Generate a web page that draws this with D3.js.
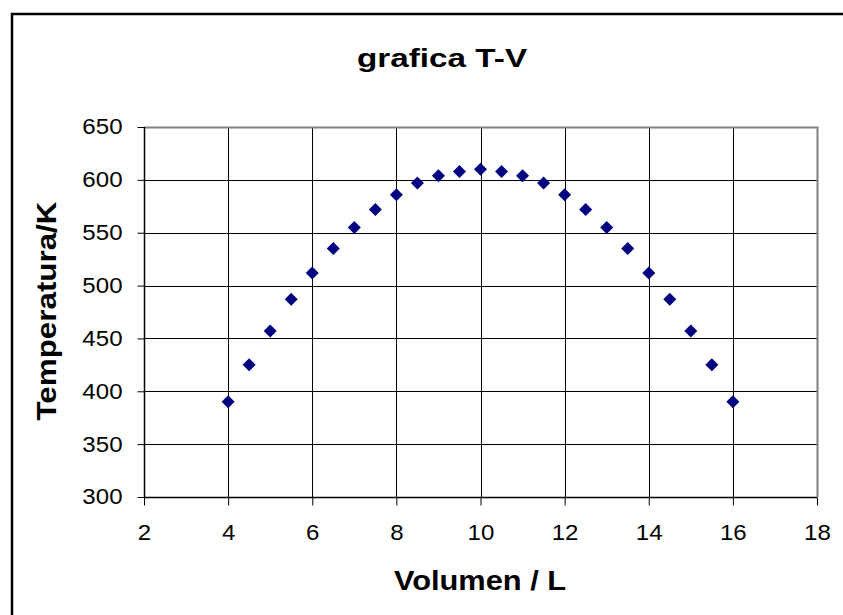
<!DOCTYPE html>
<html>
<head>
<meta charset="utf-8">
<script src="https://cdn.jsdelivr.net/npm/d3@7"></script>
<style>
  html, body { margin: 0; padding: 0; background: #fff; }
  svg { display: block; }
  text { font-family: Arial, "Liberation Sans", sans-serif; fill: #000; }
</style>
</head>
<body>
<svg id="chart" width="843" height="615"></svg>
<script>
// ---- data ----
const volumes = [4, 4.5, 5, 5.5, 6, 6.5, 7, 7.5, 8, 8.5, 9, 9.5, 10, 10.5, 11, 11.5, 12, 12.5, 13, 13.5, 14, 14.5, 15, 15.5, 16];
const temperatures = [390, 425, 457, 487, 512, 535, 555, 572, 586, 597, 604, 608, 610, 608, 604, 597, 586, 572, 555, 535, 512, 487, 457, 425, 390];
const xTicks = [2, 4, 6, 8, 10, 12, 14, 16, 18];
const yTicks = [300, 350, 400, 450, 500, 550, 600, 650];
const titleText = "grafica T-V";
const xTitle = "Volumen / L";
const yTitle = "Temperatura/K";

const svg = d3.select("#chart");
const plot = { left: 144, right: 817, top: 127, bottom: 497 };

const x = d3.scaleLinear().domain([2, 18]).range([plot.left, plot.right]);
const y = d3.scaleLinear().domain([300, 650]).range([plot.bottom, plot.top]);

// outer chart border
svg.append("rect")
  .attr("x", 12).attr("y", 14)
  .attr("width", 860).attr("height", 640)
  .attr("fill", "#fff").attr("stroke", "#000").attr("stroke-width", 2.5);

// gridlines
svg.append("g").selectAll("line").data(yTicks).join("line")
  .attr("x1", plot.left).attr("x2", plot.right)
  .attr("y1", d => Math.round(y(d)) + 0.5).attr("y2", d => Math.round(y(d)) + 0.5)
  .attr("stroke", "#000").attr("stroke-width", 1);
svg.append("g").selectAll("line").data(xTicks).join("line")
  .attr("y1", plot.top).attr("y2", plot.bottom)
  .attr("x1", d => Math.round(x(d)) + 0.5).attr("x2", d => Math.round(x(d)) + 0.5)
  .attr("stroke", "#000").attr("stroke-width", 1);

// plot area border (gray top/right)
svg.append("path")
  .attr("d", `M${plot.left},${plot.top + 0.5} H${plot.right + 0.5} V${plot.bottom}`)
  .attr("fill", "none").attr("stroke", "#808080").attr("stroke-width", 2);

// axes
const xAxis = d3.axisBottom(x).tickValues(xTicks).tickSize(8).tickPadding(19).tickFormat(d3.format("d"));
const yAxis = d3.axisLeft(y).tickValues(yTicks).tickSize(7).tickPadding(15).tickFormat(d3.format("d"));

const gx = svg.append("g").attr("transform", `translate(0,${plot.bottom + 0.5})`).call(xAxis);
const gy = svg.append("g").attr("transform", `translate(${plot.left + 0.5},0)`).call(yAxis);
[gx, gy].forEach(g => {
  g.select(".domain").attr("stroke", "#000").attr("stroke-width", 1.5);
  g.selectAll(".tick line").attr("stroke", "#000");
  g.selectAll(".tick text").attr("font-size", 21.5).attr("font-family", "Arial, 'Liberation Sans', sans-serif").attr("fill", "#000");
});
gx.select(".domain").attr("d", `M${plot.left},0H${plot.right}`);
gy.select(".domain").attr("d", `M0,${plot.top}V${plot.bottom}`);
// slight horizontal stretch of tick labels
gy.selectAll(".tick text").each(function() {
  const t = d3.select(this);
  const tx = +t.attr("x");
  t.attr("transform", `translate(${tx},0) scale(1.12,1) translate(${-tx},0)`);
});
gx.selectAll(".tick text").attr("transform", "scale(1.12,1)");

// markers
svg.append("g").selectAll("path").data(volumes.map((v, i) => [v, temperatures[i]])).join("path")
  .attr("transform", d => `translate(${x(d[0])},${y(d[1])})`)
  .attr("d", "M0,-6.5L6.5,0L0,6.5L-6.5,0Z")
  .attr("fill", "#000080");

// titles
svg.append("text")
  .attr("transform", "translate(442,67) scale(1.28,1)")
  .attr("text-anchor", "middle")
  .attr("font-size", 26).attr("font-weight", "bold")
  .text(titleText);

svg.append("text")
  .attr("transform", "translate(480,590) scale(1.1,1)")
  .attr("text-anchor", "middle")
  .attr("font-size", 28).attr("font-weight", "bold")
  .text(xTitle);

svg.append("text")
  .attr("transform", "translate(56,311) rotate(-90) scale(1.12,1)")
  .attr("text-anchor", "middle")
  .attr("font-size", 28).attr("font-weight", "bold")
  .text(yTitle);
</script>
</body>
</html>
